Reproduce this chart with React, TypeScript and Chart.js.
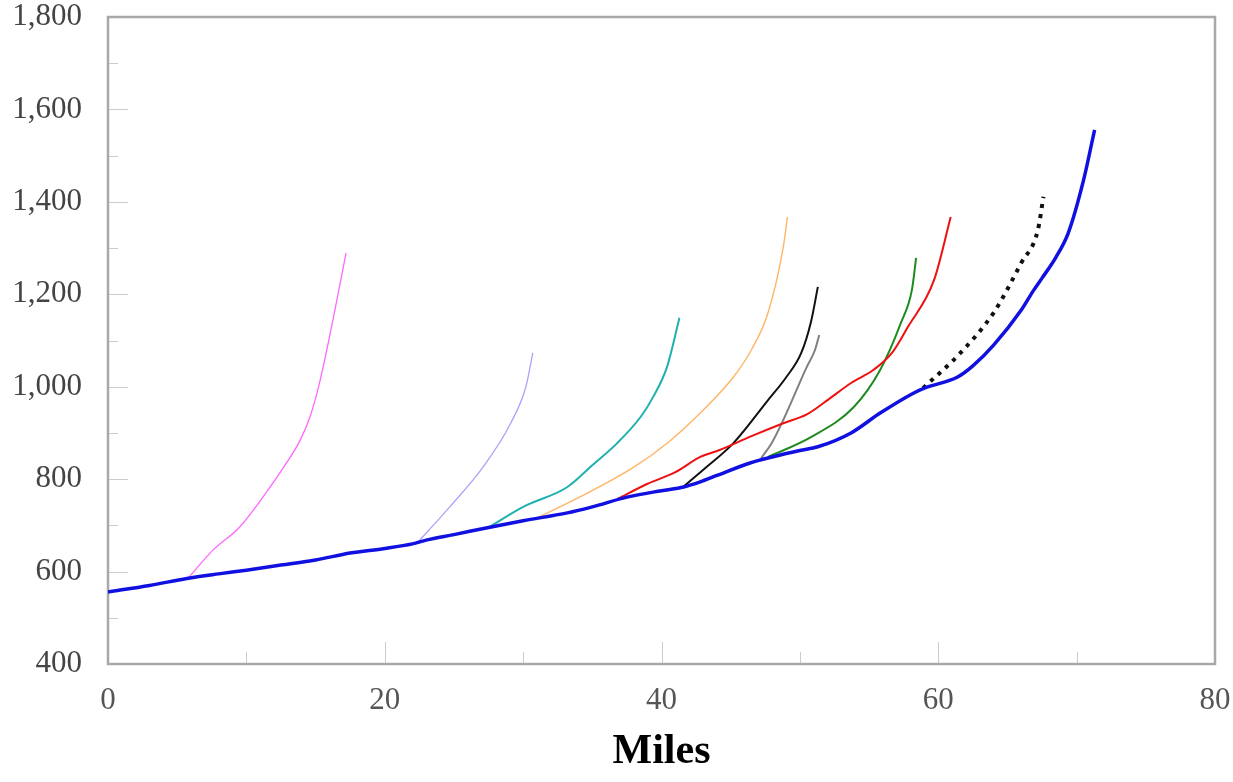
import React, { useEffect, useRef } from "react";
import { Chart, registerables } from "chart.js";

Chart.register(...registerables);

const xTickValues = [0, 20, 40, 60, 80];
const yTickValues = [400, 600, 800, 1000, 1200, 1400, 1600, 1800];
const xMinorTicks = [10, 30, 50, 70];
const yMinorTicks = [500, 700, 900, 1100, 1300, 1500, 1700];
const axisTitle = "Miles";

const mainX = [0, 3, 5.7, 8, 10, 12.5, 15, 17.5, 20, 22, 23, 25, 27.6, 30, 33.2, 35, 37.5, 40, 41.6, 42.8, 44, 46.4, 48, 50, 51.3, 53.7, 55.8, 58.2, 59, 61.4, 62.5, 64, 66, 66.9, 67.5, 68.5, 69.4, 70.5, 71.3];
const mainY = [556, 570, 585, 595, 603, 614, 625, 640, 650, 660, 668, 680, 696, 710, 727, 740, 761, 775, 783, 794, 808, 835, 848, 862, 870, 900, 943, 986, 997, 1021, 1045, 1090, 1166, 1209, 1235, 1280, 1333, 1447, 1556];

const pinkX = [5.8, 7.6, 9.5, 11.9, 12.9, 13.9, 14.6, 15.3, 16.3, 17.2];
const pinkY = [586, 647, 696, 791, 835, 885, 935, 1010, 1151, 1289];

const lavenderX = [22.4, 23.2, 24.7, 27.1, 29.1, 30.2, 30.7];
const lavenderY = [664, 690, 740, 826, 921, 1000, 1073];

const tealX = [27.6, 30, 33.2, 35, 36.8, 38.5, 39.4, 40.4, 41.3];
const tealY = [697, 740, 783, 830, 878, 935, 978, 1043, 1149];

const orangeX = [30.7, 34, 38, 40.5, 42.8, 45.2, 46.5, 47.7, 48.8, 49.1];
const orangeY = [712, 760, 826, 880, 943, 1021, 1080, 1160, 1302, 1367];

const redX = [36.8, 39, 41, 42.8, 44.2, 46.5, 48.8, 50.5, 52, 53.7, 55.3, 56.7, 57.8, 59.7, 60.9];
const redY = [757, 790, 815, 848, 863, 893, 921, 940, 971, 1008, 1036, 1075, 1129, 1231, 1367];

const blackX = [41.6, 43, 45.2, 47.7, 49, 50.1, 50.8, 51.3];
const blackY = [784, 820, 878, 971, 1020, 1073, 1140, 1216];

const grayX = [47.2, 48, 48.8, 50.5, 51.1, 51.4];
const grayY = [845, 880, 928, 1043, 1080, 1112];

const greenX = [47.7, 50.8, 53.9, 55.8, 57.3, 58.1, 58.4];
const greenY = [848, 891, 956, 1036, 1138, 1210, 1279];

const dottedX = [58.9, 61.6, 64, 66, 67.2, 67.6];
const dottedY = [997, 1073, 1160, 1268, 1339, 1411];

const zip = (xs: number[], ys: number[]) => xs.map((x, i) => ({ x, y: ys[i] }));

const framePlugin = {
  id: "frame",
  beforeDatasetsDraw(chart: any) {
    const { ctx, chartArea } = chart;
    const xs = chart.scales.x;
    const ys = chart.scales.y;
    const { left, right, top, bottom } = chartArea;
    ctx.save();
    ctx.strokeStyle = "#cccccc";
    ctx.lineWidth = 1;
    ctx.beginPath();
    xTickValues.forEach((v) => {
      const p = Math.round(xs.getPixelForValue(v)) + 0.5;
      ctx.moveTo(p, bottom);
      ctx.lineTo(p, bottom - 22);
    });
    xMinorTicks.forEach((v) => {
      const p = Math.round(xs.getPixelForValue(v)) + 0.5;
      ctx.moveTo(p, bottom);
      ctx.lineTo(p, bottom - 12);
    });
    yTickValues.forEach((v) => {
      const p = Math.round(ys.getPixelForValue(v)) + 0.5;
      ctx.moveTo(left, p);
      ctx.lineTo(left + 20, p);
    });
    yMinorTicks.forEach((v) => {
      const p = Math.round(ys.getPixelForValue(v)) + 0.5;
      ctx.moveTo(left, p);
      ctx.lineTo(left + 10, p);
    });
    ctx.stroke();
    ctx.strokeStyle = "#a8a8a8";
    ctx.lineWidth = 2.5;
    ctx.strokeRect(left, top, right - left, bottom - top);
    ctx.restore();
  },
};

export default function App() {
  const ref = useRef<HTMLCanvasElement | null>(null);
  useEffect(() => {
    if (!ref.current) return;
    const tickFont = { family: "'Liberation Serif', 'Times New Roman', serif", size: 31 };
    const mk = (xs: number[], ys: number[], color: string, width: number, extra: any = {}) => ({
      data: zip(xs, ys),
      borderColor: color,
      backgroundColor: color,
      borderWidth: width,
      pointRadius: 0,
      fill: false,
      cubicInterpolationMode: "monotone",
      ...extra,
    });
    const chart = new Chart(ref.current, {
      type: "line",
      data: {
        datasets: [
          mk(mainX, mainY, "#1010e0", 3.5),
          mk(dottedX, dottedY, "#111111", 4, { borderDash: [4, 6] }),
          mk(pinkX, pinkY, "#ff66ff", 1.3),
          mk(lavenderX, lavenderY, "#b0a0f8", 1.3),
          mk(tealX, tealY, "#20b0b0", 2),
          mk(orangeX, orangeY, "#ffb466", 1.4),
          mk(redX, redY, "#ee1111", 2),
          mk(blackX, blackY, "#111111", 2),
          mk(grayX, grayY, "#808080", 2),
          mk(greenX, greenY, "#1f8a1f", 2),
        ] as any,
      },
      options: {
        animation: false,
        responsive: false,
        devicePixelRatio: 1,
        layout: { padding: { left: 0, top: 17, right: 18, bottom: 0 } },
        plugins: { legend: { display: false }, tooltip: { enabled: false } },
        scales: {
          x: {
            type: "linear",
            min: 0,
            max: 80,
            afterFit: (s: any) => {
              s.height = 118;
              s.paddingLeft = 0;
              s.paddingRight = 0;
            },
            afterBuildTicks: (s: any) => {
              s.ticks = xTickValues.map((v) => ({ value: v }));
            },
            grid: { display: false, drawTicks: false },
            border: { display: false },
            ticks: { font: tickFont, color: "#555555", padding: 18, maxRotation: 0, autoSkip: false },
            title: {
              display: true,
              text: axisTitle,
              color: "#000000",
              font: { family: "'Liberation Serif', 'Times New Roman', serif", size: 42, weight: "bold" },
              padding: { top: 0, bottom: 5 },
            },
          },
          y: {
            type: "linear",
            min: 400,
            max: 1800,
            afterFit: (s: any) => {
              s.width = 108;
              s.paddingTop = 0;
              s.paddingBottom = 0;
            },
            afterBuildTicks: (s: any) => {
              s.ticks = yTickValues.map((v) => ({ value: v }));
            },
            grid: { display: false, drawTicks: false },
            border: { display: false },
            ticks: {
              font: tickFont,
              color: "#444444",
              padding: 26,
              callback: (v: any) => Number(v).toLocaleString("en-US"),
            },
          },
        },
      } as any,
      plugins: [framePlugin],
    });
    return () => chart.destroy();
  }, []);
  return (
    <div style={{ position: "absolute", left: 0, top: 0, width: 1233, height: 782, background: "#ffffff" }}>
      <canvas ref={ref} width={1233} height={782} />
    </div>
  );
}
